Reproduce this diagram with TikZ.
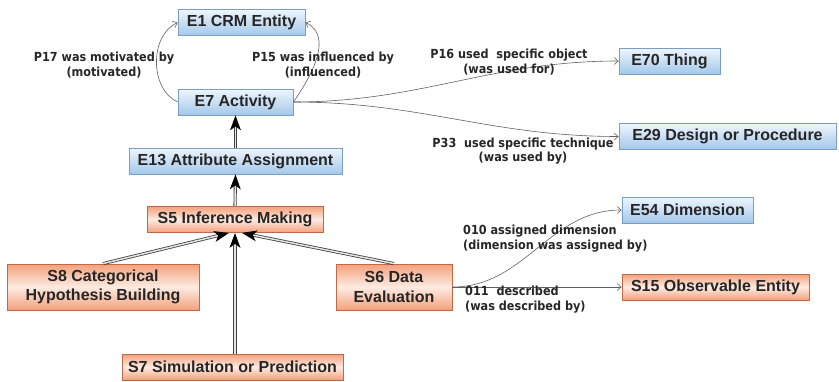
\documentclass[tikz,border=0pt]{standalone}
\usepackage{fontspec}
\setmainfont{Liberation Sans}
\newfontfamily\lblfont{DejaVu Sans}[FakeStretch=0.9]
\usetikzlibrary{arrows.meta,decorations.markings}
\definecolor{crmtop}{HTML}{EEF5FC}
\definecolor{crmbot}{HTML}{A3C8EA}
\definecolor{crmline}{HTML}{7C9DC2}
\definecolor{scitop}{HTML}{F3A07B}
\definecolor{scimid}{HTML}{FDEBE2}
\definecolor{sciline}{HTML}{C26845}
\definecolor{txt}{HTML}{262626}
\begin{document}
\begin{tikzpicture}[x=1pt, y=-1pt,
    crm/.style={draw=crmline, line width=0.8pt, top color=crmtop, bottom color=crmbot,
      minimum height=26pt, inner sep=0pt, text=txt,
      font=\bfseries\fontsize{16}{19}\selectfont},
    sci/.style={draw=sciline, line width=0.8pt, top color=scitop, bottom color=scitop,
      middle color=scimid, minimum height=26pt, inner sep=0pt, align=center, text=txt,
      font=\bfseries\fontsize{16}{19.5}\selectfont},
    prop/.style={draw=gray!75!black, line width=0.6pt, -{Straight Barb[length=4pt,width=7pt]}},
    isa/.style={draw=gray!50!black, line width=0.8pt, double=gray!20, double distance=1.5pt,
      shorten >=11pt,
      postaction={decorate, decoration={markings, mark=at position 1 with
        {\fill [black] (0pt, 0pt) -- (-15pt, 5.5pt) -- (-11pt, 0pt) -- (-15pt, -5.5pt) -- cycle;}}}},
    lbl/.style={align=center, text=txt, inner sep=0pt,
      font=\lblfont\bfseries\fontsize{12.5}{14.5}\selectfont}]

    \useasboundingbox (0, 0) rectangle (839, 381);

    \node [crm, minimum width=127pt] (e1) at (241.5, 22.5) {E1 CRM Entity};
    \node [crm, minimum width=115pt] (e7) at (235.5, 102) {E7 Activity};
    \node [crm, minimum width=213pt] (e13) at (235.5, 161) {E13 Attribute Assignment};
    \node [crm, minimum width=101pt] (e70) at (669.5, 61) {E70 Thing};
    \node [crm, minimum width=217pt] (e29) at (727.5, 136.5) {E29 Design or Procedure};
    \node [crm, minimum width=131pt] (e54) at (687.5, 210) {E54 Dimension};

    \node [sci, minimum width=176pt] (s5) at (235, 219.5) {S5 Inference Making};
    \node [sci, minimum width=192pt, minimum height=46pt] (s8) at (103, 287) {S8 Categorical\\Hypothesis Building};
    \node [sci, minimum width=116pt, minimum height=46pt] (s6) at (394, 287) {S6 Data\\Evaluation};
    \node [sci, minimum width=221pt] (s7) at (232.5, 367) {S7 Simulation or Prediction};
    \node [sci, minimum width=187pt] (s15) at (715.5, 287) {S15 Observable Entity};

    \draw [prop] (e7.west) to [out=155, in=205] (e1.west);
    \draw [prop] (e7.east) to [out=55, in=-25] (e1.east);
    \node [lbl] (p17) at (104, 65) {P17 was motivated by\\(motivated)};
    \node [lbl] (p15) at (323, 65) {P15 was influenced by\\(influenced)};

    \draw [prop] (e7.east) to [out=0, in=180] (e70.west);
    \draw [prop] (e7.east) to [out=0, in=180] (e29.west);
    \node [lbl] (p16) at (509, 62) {P16 used\ \ specific object\\(was used for)};
    \node [lbl] (p33) at (523, 151) {P33\ \ used specific technique\\(was used by)};

    \draw [isa] (e13.north) -- (e7.south);
    \draw [isa] (s5.north) -- (e13.south);
    \draw [isa] (s8.north) -- ([xshift=-6pt]s5.south);
    \draw [isa] (s5.south |- s7.north) -- (s5.south);
    \draw [isa] (s6.north) -- ([xshift=7pt]s5.south);

    \draw [prop] (s6.east) to [out=0, in=180] (e54.west);
    \draw [prop] (s6.east) -- (s15.west);
    \node [lbl, anchor=west, align=left] (o10) at (463, 238.5) {010 assigned dimension\\(dimension was assigned by)};
    \node [lbl, anchor=west, align=left] (o11) at (465, 299.5) {011\ \ described\\(was described by)};
\end{tikzpicture}
\end{document}
